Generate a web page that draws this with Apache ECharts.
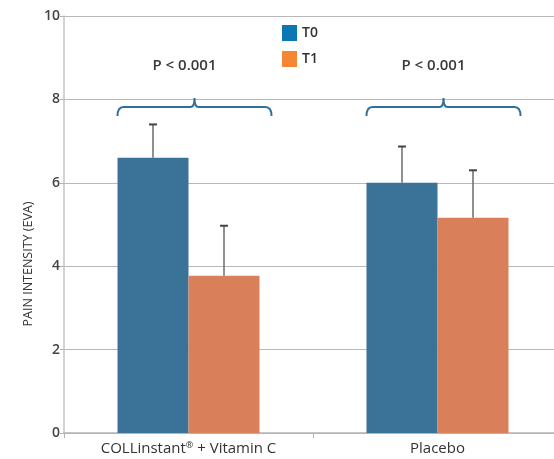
<!DOCTYPE html>
<html>
<head>
<meta charset="utf-8">
<script src="https://cdn.jsdelivr.net/npm/echarts@6/dist/echarts.min.js"></script>
<style>
  html, body { margin: 0; padding: 0; background: #fff; }
  #chart { width: 554px; height: 459px; }
</style>
</head>
<body>
<div id="chart"></div>
<script>
// data
var categories = ['COLLinstant\u00ae + Vitamin C', 'Placebo'];
var seriesNames = ['T0', 'T1'];
var t0Values = [6.6, 6.0];
var t1Values = [3.77, 5.16];
var t0ErrTop = [7.4, 6.87];
var t1ErrTop = [4.97, 6.3];
var pLabels = ['P < 0.001', 'P < 0.001'];
var bracketLevel = [7.82, 7.82];

var barColors = ['#3b7298', '#d97f5a'];
var legendColors = ['#0a78b4', '#f58634'];
var fontFam = '"Open Sans", sans-serif';
var BAR_W = 71;

var myChart = echarts.init(document.getElementById('chart'));

function errorSeries(name, vals, tops, offset) {
	var data = [];
	for (var i = 0; i < vals.length; i++) {
		data.push([i, vals[i], tops[i]]);
	}
	return {
		type: 'custom',
		name: name + '-err',
		silent: true,
		z: 5,
		data: data,
		renderItem: function(params, api) {
			var base = api.coord([api.value(0), api.value(1)]);
			var top = api.coord([api.value(0), api.value(2)]);
			var x = base[0] + offset;
			return {
				type: 'group',
				children: [
					{type: 'line', shape: {x1: x, y1: base[1], x2: x, y2: top[1]},
						style: {stroke: '#6b6b6b', lineWidth: 1.5}},
					{type: 'line', shape: {x1: x - 4, y1: top[1], x2: x + 4, y2: top[1]},
						style: {stroke: '#444', lineWidth: 2}}
				]
			};
		}
	};
}

// curly bracket + p value above each group
var bracketData = [];
for (var i = 0; i < categories.length; i++) {
	bracketData.push([i, bracketLevel[i], pLabels[i]]);
}

var bracketSeries = {
	type: 'custom',
	name: 'brackets',
	silent: true,
	z: 6,
	data: bracketData,
	renderItem: function(params, api) {
		var c = api.coord([api.value(0), api.value(1)]);
		var cx = c[0] + 6, y = c[1];
		var half = 77, r = 6;
		var path = 'M' + (cx - half) + ' ' + (y + 9) +
			' Q' + (cx - half) + ' ' + y + ' ' + (cx - half + r) + ' ' + y +
			' L' + (cx - 4) + ' ' + y +
			' Q' + cx + ' ' + y + ' ' + cx + ' ' + (y - 9) +
			' Q' + cx + ' ' + y + ' ' + (cx + 4) + ' ' + y +
			' L' + (cx + half - r) + ' ' + y +
			' Q' + (cx + half) + ' ' + y + ' ' + (cx + half) + ' ' + (y + 9);
		var p = api.coord([api.value(0), 8.8]);
		return {
			type: 'group',
			children: [
				{type: 'path', shape: {pathData: path},
					style: {stroke: '#2f6f9c', lineWidth: 2, fill: null}},
				{type: 'text', x: p[0] - 4, y: p[1],
					style: {text: pLabels[params.dataIndex], fill: '#3a3a3a',
						font: '600 15px ' + fontFam, align: 'center', verticalAlign: 'middle'}}
			]
		};
	}
};

var option = {
	animation: false,
	backgroundColor: '#fff',
	grid: {left: 64, right: -8, top: 16, bottom: 26, outerBoundsMode: 'none', containLabel: false},
	legend: {
		orient: 'vertical',
		left: 277,
		top: 20,
		icon: 'rect',
		itemWidth: 15,
		itemHeight: 16,
		itemGap: 10,
		textStyle: {fontFamily: fontFam, fontSize: 14, fontWeight: 600, color: '#333'},
		data: [
			{name: seriesNames[0], itemStyle: {color: legendColors[0]}},
			{name: seriesNames[1], itemStyle: {color: legendColors[1]}}
		]
	},
	graphic: [{
		type: 'text',
		x: 28,
		y: 264,
		rotation: Math.PI / 2,
		style: {text: 'PAIN INTENSITY (EVA)', fill: '#333', font: '12.5px ' + fontFam,
			align: 'center', verticalAlign: 'middle'}
	}],
	xAxis: {
		type: 'category',
		data: categories,
		axisLine: {lineStyle: {color: '#b4b4b4', width: 1.5}},
		axisTick: {show: true, length: 5, lineStyle: {color: '#b4b4b4'}},
		axisLabel: {
			interval: 0,
			fontFamily: fontFam, fontSize: 15, color: '#333', margin: 8,
			formatter: function(v) {
				return v.replace('\u00ae', '{sup|\u00ae}');
			},
			rich: {sup: {fontFamily: fontFam, fontSize: 9, color: '#333', verticalAlign: 'top', padding: [0, 0, 6, 0]}}
		}
	},
	yAxis: {
		type: 'value',
		min: 0,
		max: 10,
		interval: 2,
		axisLine: {show: true, lineStyle: {color: '#c4c4c4', width: 1.5}},
		axisTick: {show: true, length: 4, lineStyle: {color: '#b4b4b4'}},
		axisLabel: {fontFamily: fontFam, fontSize: 14, fontWeight: 600, color: '#444', margin: 4},
		splitLine: {lineStyle: {color: '#b8b8b8', width: 1}}
	},
	series: [
		{name: seriesNames[0], type: 'bar', data: t0Values, barWidth: BAR_W, barGap: '0%',
			itemStyle: {color: barColors[0]}},
		{name: seriesNames[1], type: 'bar', data: t1Values, barWidth: BAR_W, barGap: '0%',
			itemStyle: {color: barColors[1]}},
		errorSeries(seriesNames[0], t0Values, t0ErrTop, -BAR_W / 2),
		errorSeries(seriesNames[1], t1Values, t1ErrTop, BAR_W / 2),
		bracketSeries
	]
};

myChart.setOption(option);
</script>
</body>
</html>
